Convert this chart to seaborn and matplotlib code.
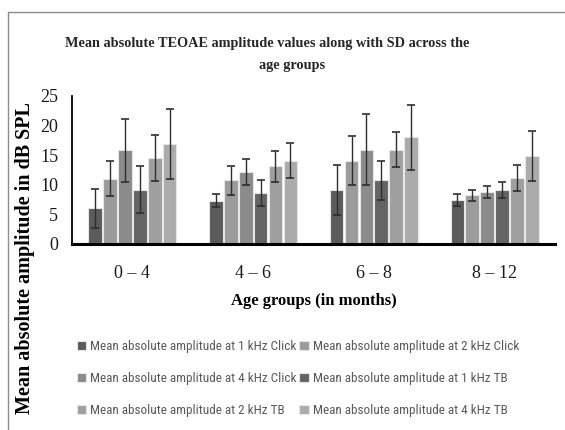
import numpy as np
import pandas as pd
import seaborn as sns
import matplotlib
matplotlib.use("Agg")
import matplotlib.pyplot as plt
from matplotlib import font_manager
from matplotlib.lines import Line2D

# Age groups on the x axis
age_groups = ["0 \u2013 4", "4 \u2013 6", "6 \u2013 8", "8 \u2013 12"]

# Series names (legend entries)
series = [
    "Mean absolute amplitude at 1 kHz Click",
    "Mean absolute amplitude at 2 kHz Click",
    "Mean absolute amplitude at 4 kHz Click",
    "Mean absolute amplitude at 1 kHz TB",
    "Mean absolute amplitude at 2 kHz TB",
    "Mean absolute amplitude at 4 kHz TB",
]

# Mean amplitudes (dB SPL), one list per series across age groups
click_1k = [6.0, 7.3, 9.1, 7.4]
click_2k = [11.0, 10.8, 14.1, 8.2]
click_4k = [15.8, 12.1, 15.9, 8.8]
tb_1k = [9.2, 8.6, 10.8, 9.1]
tb_2k = [14.5, 13.1, 15.9, 11.2]
tb_4k = [16.9, 14.1, 18.0, 14.9]

# Standard deviations
sd_click_1k = [3.3, 1.1, 4.2, 1.05]
sd_click_2k = [2.95, 2.45, 4.2, 0.9]
sd_click_4k = [5.3, 2.2, 6.0, 0.95]
sd_tb_1k = [3.9, 2.25, 3.3, 1.3]
sd_tb_2k = [3.9, 2.55, 2.95, 2.2]
sd_tb_4k = [5.85, 3.0, 5.45, 4.2]

means = [click_1k, click_2k, click_4k, tb_1k, tb_2k, tb_4k]
sds = [sd_click_1k, sd_click_2k, sd_click_4k, sd_tb_1k, sd_tb_2k, sd_tb_4k]

colors = ["#5b5b5b", "#9b9b9b", "#8b8b8b", "#646464", "#9f9f9f", "#ababab"]

rows = []
for name, m, s in zip(series, means, sds):
    for g, v, e in zip(age_groups, m, s):
        rows.append({"age": g, "series": name, "mean": v, "sd": e})
df = pd.DataFrame(rows)

sns.set_theme(style="white")


def pick(cands):
    avail = {f.name for f in font_manager.fontManager.ttflist}
    for c in cands:
        if c in avail:
            return c
    return "DejaVu Sans"


serif = pick(["Liberation Serif", "DejaVu Serif"])
narrow = pick(["Liberation Sans Narrow", "Roboto Condensed", "Liberation Sans"])

W, H = 565, 430
fig = plt.figure(figsize=(W / 100, H / 100), dpi=100)
ax = fig.add_axes([72 / W, 1 - 244 / H, (555 - 72) / W, (244 - 96) / H])

sns.barplot(data=df, x="age", y="mean", hue="series", hue_order=series,
            order=age_groups, palette=colors, errorbar=None, width=0.74,
            gap=0.08, edgecolor="#e6e6e6", linewidth=0.8, saturation=1,
            ax=ax, legend=True)

# SD whiskers on each bar
for cont, sd in zip(ax.containers, sds):
    xs = [p.get_x() + p.get_width() / 2 for p in cont.patches]
    ys = [p.get_height() for p in cont.patches]
    ax.errorbar(xs, ys, yerr=sd, fmt="none", ecolor="#2e2e2e",
                elinewidth=1.0, capsize=2.6, capthick=1.2, zorder=5)

ax.set_ylim(0, 25)
ax.set_yticks([0, 5, 10, 15, 20, 25])
ax.set_xlim(-0.5, 3.5)
for s in ["top", "right"]:
    ax.spines[s].set_visible(False)
ax.spines["left"].set_color("black")
ax.spines["left"].set_linewidth(1.3)
ax.spines["bottom"].set_color("black")
ax.spines["bottom"].set_linewidth(2.2)
ax.tick_params(axis="both", length=0)
ax.tick_params(axis="y", pad=10)
ax.tick_params(axis="x", pad=15)
for lab in ax.get_yticklabels() + ax.get_xticklabels():
    lab.set_fontfamily(serif)
    lab.set_fontsize(13)
    lab.set_color("#1a1a1a")

ax.set_xlabel("Age groups (in months)", fontfamily=serif, fontweight="bold",
              fontsize=12, color="black")
ax.xaxis.set_label_coords(0.5, -0.33)
ax.set_ylabel("Mean absolute amplitude in dB SPL", fontfamily=serif,
              fontweight="bold", fontsize=14.5, color="black")
ax.yaxis.set_label_coords(-0.077, -0.095)

# Title in two lines
fig.text(267 / W, 1 - 43 / H,
         "Mean absolute TEOAE amplitude values along with SD across the",
         ha="center", va="center", fontfamily=serif, fontweight="bold",
         fontsize=10.3)
fig.text(292 / W, 1 - 65 / H, "age groups", ha="center", va="center",
         fontfamily=serif, fontweight="bold", fontsize=10.3)

# Legend laid out row by row in two columns
handles, labels = ax.get_legend_handles_labels()
ax.get_legend().remove()
order = [0, 2, 4, 1, 3, 5]
leg = fig.legend([handles[i] for i in order], [labels[i] for i in order],
                 ncol=2, loc="upper left", bbox_to_anchor=(77 / W, 1 - 340 / H),
                 frameon=False, handlelength=0.7, handleheight=0.7,
                 handletextpad=0.3, columnspacing=0.2, labelspacing=1.45,
                 borderaxespad=0, borderpad=0,
                 prop={"family": narrow, "size": 9.5})
for t in leg.get_texts():
    t.set_color("#595959")

# Outer frame lines
fig.add_artist(Line2D([8 / W, 8 / W], [0, 1 - 12 / H], transform=fig.transFigure,
                      color="#8c8c8c", lw=1.0))
fig.add_artist(Line2D([8 / W, 1], [1 - 12 / H, 1 - 12 / H], transform=fig.transFigure,
                      color="#8c8c8c", lw=1.0))

fig.savefig("out.png", dpi=100, facecolor="white")
